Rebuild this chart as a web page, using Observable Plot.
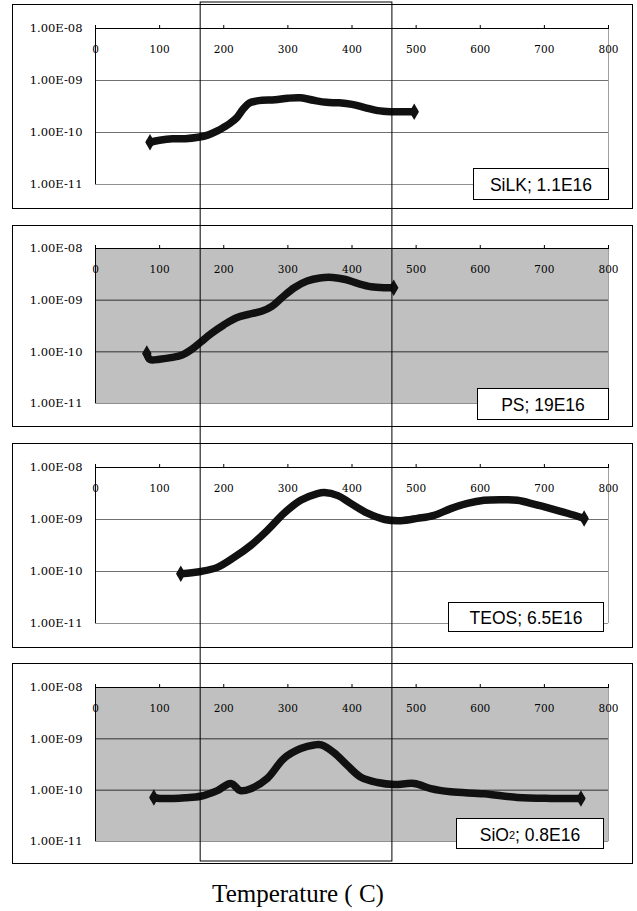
<!DOCTYPE html>
<html>
<head>
<meta charset="utf-8">
<script src="https://cdn.jsdelivr.net/npm/d3@7"></script>
<script src="https://cdn.jsdelivr.net/npm/@observablehq/plot@0.6"></script>
<style>
  html, body { margin: 0; padding: 0; background: white; }
  #wrap { position: relative; width: 637px; height: 911px; background: white; overflow: hidden; }
  .abs { position: absolute; }
  .box { position: absolute; border: 1px solid #000; box-sizing: border-box; pointer-events: none; }
  .legend { position: absolute; box-sizing: border-box; border: 1px solid #000; background: #fff;
            font-family: "Liberation Sans", Arial, sans-serif; font-size: 17.5px; color: #000;
            display: flex; align-items: center; justify-content: center; padding-top: 3px; }
  .legend .sub { font-size: 11px; vertical-align: -1px; }
  #xlabel { position: absolute; left: 0; width: 596px; text-align: center; top: 880px;
            font-family: "Liberation Serif", "Times New Roman", serif; font-size: 25px; color: #000; }
</style>
</head>
<body>
<div id="wrap"></div>
<script>
// ---------- data ----------
const xTicks = [0, 100, 200, 300, 400, 500, 600, 700, 800];
const yTicks = [1e-8, 1e-9, 1e-10, 1e-11];
const yTickLabels = ["1.00E-08", "1.00E-09", "1.00E-10", "1.00E-11"];
const xLabel = "Temperature ( C)";
const windowRange = [164, 463];

const seriesNames = ["SiLK; 1.1E16", "PS; 19E16", "TEOS; 6.5E16", "SiO2; 0.8E16"];

const silkT = [85, 100, 120, 140, 160, 175, 190, 200, 210, 220, 230, 240, 250, 260, 280, 300, 320, 340, 360, 380, 400, 420, 440, 460, 480, 497];
const silkV = [6.5e-11, 7.1e-11, 7.6e-11, 7.6e-11, 8.1e-11, 8.9e-11, 1.07e-10, 1.26e-10, 1.51e-10, 1.91e-10, 2.8e-10, 3.7e-10, 4.0e-10, 4.15e-10, 4.25e-10, 4.57e-10, 4.65e-10, 4.17e-10, 3.8e-10, 3.72e-10, 3.47e-10, 3.02e-10, 2.63e-10, 2.51e-10, 2.51e-10, 2.51e-10];

const psT = [80, 85, 100, 120, 135, 150, 165, 180, 200, 220, 240, 260, 275, 290, 310, 330, 350, 370, 390, 410, 430, 450, 465];
const psV = [9.3e-11, 7.1e-11, 7.2e-11, 7.8e-11, 8.7e-11, 1.12e-10, 1.58e-10, 2.24e-10, 3.31e-10, 4.57e-10, 5.37e-10, 6.17e-10, 7.59e-10, 1.10e-9, 1.74e-9, 2.34e-9, 2.69e-9, 2.75e-9, 2.51e-9, 2.09e-9, 1.82e-9, 1.74e-9, 1.74e-9];

const teosT = [133, 150, 164, 190, 216, 242, 268, 294, 320, 346, 357, 378, 398, 424, 451, 476, 502, 528, 554, 580, 606, 632, 658, 685, 710, 736, 762];
const teosV = [9.1e-11, 9.5e-11, 1.0e-10, 1.2e-10, 1.86e-10, 3.16e-10, 6.17e-10, 1.32e-9, 2.34e-9, 3.16e-9, 3.31e-9, 2.88e-9, 2.04e-9, 1.32e-9, 1.0e-9, 9.5e-10, 1.05e-9, 1.2e-9, 1.62e-9, 2.04e-9, 2.34e-9, 2.4e-9, 2.34e-9, 1.95e-9, 1.62e-9, 1.32e-9, 1.05e-9];

const sio2T = [91, 100, 122, 140, 164, 190, 211, 226, 242, 268, 294, 320, 341, 352, 372, 393, 414, 440, 466, 497, 523, 554, 606, 658, 710, 757];
const sio2V = [7.2e-11, 6.9e-11, 6.9e-11, 7.1e-11, 7.6e-11, 9.8e-11, 1.35e-10, 9.8e-11, 1.07e-10, 1.7e-10, 4.17e-10, 6.46e-10, 7.6e-10, 7.6e-10, 5.37e-10, 3.02e-10, 1.78e-10, 1.41e-10, 1.29e-10, 1.35e-10, 1.07e-10, 9.3e-11, 8.5e-11, 7.2e-11, 6.9e-11, 6.9e-11];

const seriesT = [silkT, psT, teosT, sio2T];
const seriesV = [silkV, psV, teosV, sio2V];
const panelShaded = [false, true, false, true];

// ---------- layout ----------
const W = 637;
const panels = [
  {top: 4,   bottom: 209, yTop: 28,  yBot: 184, leg: {l: 473, t: 168, w: 136, h: 32}},
  {top: 225, bottom: 427, yTop: 248, yBot: 403, leg: {l: 477, t: 388, w: 132, h: 32}},
  {top: 443, bottom: 648, yTop: 467, yBot: 623, leg: {l: 448, t: 602, w: 156, h: 30}},
  {top: 663, bottom: 864, yTop: 687, yBot: 841, leg: {l: 456, t: 818, w: 148, h: 31}}
];
const mL = 95, mR = 29;
const serif = "'DejaVu Serif', serif";

const wrap = document.getElementById("wrap");

panels.forEach((p, i) => {
  const data = seriesT[i].map((t, j) => ({t, v: seriesV[i][j]}));
  const ends = [data[0], data[data.length - 1]];
  const H = p.bottom - p.top;
  const marks = [];
  if (panelShaded[i]) marks.push(Plot.frame({fill: "#c0c0c0", stroke: null}));
  marks.push(
    Plot.ruleY([1e-9, 1e-10], {stroke: panelShaded[i] ? "#303030" : "#707070", strokeWidth: 1}),
    Plot.ruleY([1e-11], {stroke: "#909090", strokeWidth: 1}),
    Plot.ruleX([800], {stroke: "#a0a0a0", strokeWidth: 1}),
    Plot.ruleY([1e-8], {stroke: "#000", strokeWidth: 1}),
    Plot.ruleX([0], {stroke: "#000", strokeWidth: 1}),
    Plot.axisX({anchor: "top", ticks: xTicks, tickSize: 4, tickFormat: () => "", label: null, stroke: "#000"}),
    Plot.text(xTicks, {x: d => d, y: 1e-8, dy: 21, text: d => String(d), fill: "#000"}),
    Plot.axisY({anchor: "left", ticks: yTicks, tickSize: 0, tickPadding: 13,
                tickFormat: d => yTickLabels[yTicks.indexOf(d)], label: null, fill: "#000"}),
    Plot.line(data, {x: "t", y: "v", stroke: "#111", strokeWidth: 7.5, curve: "catmull-rom",
                     strokeLinejoin: "round", strokeLinecap: "round"}),
    Plot.dot(ends, {x: "t", y: "v", symbol: "diamond", r: 5, fill: "#111", stroke: null})
  );
  const svg = Plot.plot({
    width: W, height: H,
    marginLeft: mL, marginRight: mR,
    marginTop: p.yTop - p.top, marginBottom: p.bottom - p.yBot,
    x: {domain: [0, 800], axis: null},
    y: {type: "log", domain: [1e-11, 1e-8], axis: null},
    style: {background: "transparent", overflow: "visible"},
    marks
  });
  // force tick-label typography directly on the text nodes
  d3.select(svg).selectAll("g[aria-label='text'] text")
    .attr("font-family", "DejaVu Serif").attr("font-size", 10.5)
    .style("font-family", serif).style("font-size", "10.5px");
  d3.select(svg).selectAll("g[aria-label='y-axis tick label'] text")
    .attr("font-family", "DejaVu Serif").attr("font-size", 11.5)
    .style("font-family", serif).style("font-size", "11.5px");
  svg.classList.add("abs");
  svg.style.left = "0px";
  svg.style.top = p.top + "px";
  wrap.appendChild(svg);

  const box = document.createElement("div");
  box.className = "box";
  box.style.left = "12px"; box.style.width = (633 - 12) + "px";
  box.style.top = p.top + "px"; box.style.height = (p.bottom - p.top) + "px";
  wrap.appendChild(box);

  const leg = document.createElement("div");
  leg.className = "legend";
  leg.style.left = p.leg.l + "px"; leg.style.top = p.leg.t + "px";
  leg.style.width = p.leg.w + "px"; leg.style.height = p.leg.h + "px";
  const name = seriesNames[i];
  if (name.startsWith("SiO2")) {
    leg.innerHTML = 'SiO<span class="sub">2</span>' + name.slice(4);
  } else {
    leg.textContent = name;
  }
  wrap.appendChild(leg);
});

// overlay window rectangle across all panels
const overlay = Plot.plot({
  width: W, height: 911,
  marginLeft: mL, marginRight: mR, marginTop: 2, marginBottom: 50,
  x: {domain: [0, 800], axis: null},
  style: {background: "transparent"},
  marks: [
    Plot.rect([windowRange], {x1: d => d[0], x2: d => d[1], fill: "none", stroke: "#000", strokeWidth: 1})
  ]
});
overlay.classList.add("abs");
overlay.style.left = "0px"; overlay.style.top = "0px"; overlay.style.pointerEvents = "none";
wrap.appendChild(overlay);

const xl = document.createElement("div");
xl.id = "xlabel";
xl.textContent = xLabel;
wrap.appendChild(xl);
</script>
</body>
</html>
